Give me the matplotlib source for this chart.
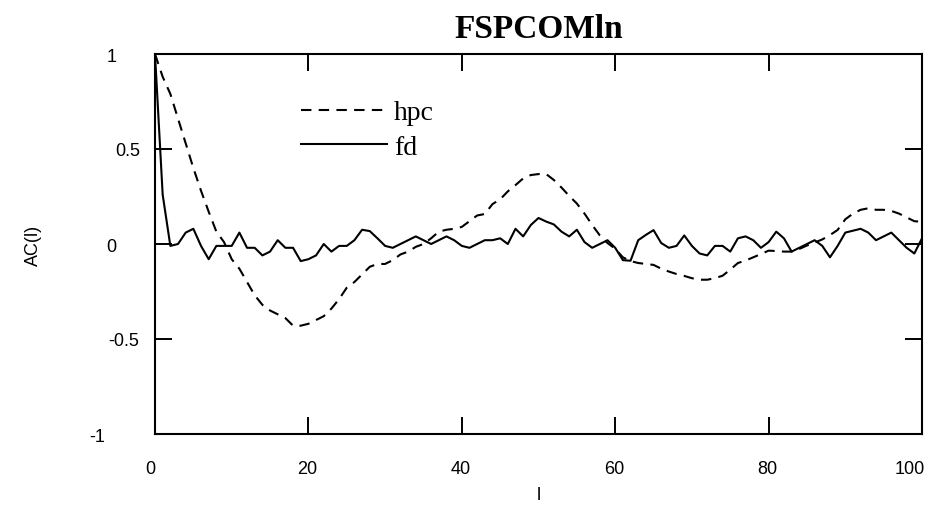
import matplotlib
matplotlib.use("Agg")
import matplotlib.pyplot as plt
from matplotlib.transforms import ScaledTranslation

lags = list(range(0, 101))

hpc = [1.0, 0.88, 0.79, 0.66, 0.53, 0.40, 0.28, 0.17, 0.065, 0.01,
       -0.08, -0.13, -0.20, -0.27, -0.32, -0.35, -0.37, -0.39, -0.43, -0.43,
       -0.42, -0.40, -0.38, -0.34, -0.29, -0.23, -0.20, -0.16, -0.12, -0.105,
       -0.105, -0.085, -0.055, -0.04, -0.015, 0.0, 0.03, 0.065, 0.075, 0.08,
       0.09, 0.12, 0.15, 0.158, 0.21, 0.235, 0.277, 0.31, 0.345, 0.363,
       0.368, 0.368, 0.337, 0.297, 0.253, 0.213, 0.16, 0.10, 0.045, 0.005,
       -0.025, -0.07, -0.09, -0.10, -0.105, -0.11, -0.13, -0.145, -0.158, -0.168,
       -0.18, -0.188, -0.188, -0.18, -0.167, -0.135, -0.10, -0.087, -0.07, -0.053,
       -0.035, -0.037, -0.04, -0.04, -0.026, -0.008, 0.008, 0.024, 0.047, 0.074,
       0.13, 0.16, 0.18, 0.188, 0.18, 0.18, 0.174, 0.16, 0.14, 0.12,
       0.117]

fd = [1.0, 0.26, -0.01, 0.0, 0.06, 0.08, -0.01, -0.08, -0.01, -0.01,
      -0.01, 0.06, -0.02, -0.02, -0.06, -0.04, 0.02, -0.02, -0.02, -0.09,
      -0.08, -0.06, 0.0, -0.04, -0.01, -0.01, 0.02, 0.075, 0.068, 0.03,
      -0.01, -0.02, 0.0, 0.02, 0.04, 0.02, 0.0, 0.02, 0.04, 0.02,
      -0.01, -0.02, 0.0, 0.02, 0.02, 0.03, 0.0, 0.08, 0.04, 0.10,
      0.137, 0.118, 0.103, 0.065, 0.04, 0.075, 0.01, -0.02, 0.0, 0.02,
      -0.02, -0.085, -0.088, 0.02, 0.048, 0.073, 0.005, -0.02, -0.01, 0.045,
      -0.01, -0.05, -0.06, -0.01, -0.01, -0.04, 0.03, 0.04, 0.02, -0.02,
      0.01, 0.065, 0.03, -0.04, -0.02, 0.0, 0.02, -0.01, -0.07, -0.01,
      0.06, 0.07, 0.08, 0.06, 0.02, 0.04, 0.06, 0.02, -0.02, -0.05,
      0.03]

xticks = [0, 20, 40, 60, 80, 100]
yticks = [-1, -0.5, 0, 0.5, 1]
ytick_labels = ["-1", "-0.5", "0", "0.5", "1"]

fig = plt.figure(figsize=(9.31, 5.06), dpi=100)
ax = fig.add_axes([155/931, (506-435)/506, 767/931, 380/506])

ax.plot(lags, hpc, color="black", lw=1.5, linestyle=(0, (5, 3.5)), label="hpc")
ax.plot(lags, fd, color="black", lw=1.5, label="fd")

ax.set_xlim(0, 100)
ax.set_ylim(-1, 1)
ax.set_xticks(xticks)
ax.set_xticklabels([str(t) for t in xticks])
ax.set_yticks(yticks)
ax.set_yticklabels(ytick_labels)
ax.tick_params(direction="in", length=12, width=1.4, top=True, right=True,
               labelsize=13)
ax.tick_params(axis="x", pad=19)
ax.tick_params(axis="y", pad=16)
for lbl in ax.get_xticklabels() + ax.get_yticklabels():
    lbl.set_fontfamily("Liberation Sans")

def shift(lbl, dx):
    lbl.set_transform(lbl.get_transform() + ScaledTranslation(dx / 100, 0, fig.dpi_scale_trans))

for lbl, dx in zip(ax.get_xticklabels(), [-5, -1, -1, -1, -1, -12]):
    shift(lbl, dx)
for lbl, dx in zip(ax.get_yticklabels(), [-28, 6, -16, 7, -16]):
    shift(lbl, dx)
for s in ax.spines.values():
    s.set_linewidth(1.5)

ax.set_xlabel("l", fontsize=13, family="Liberation Sans")
ax.xaxis.set_label_coords(0.5, -0.137)
ax.set_ylabel("AC(l)", fontsize=13, family="Liberation Sans")
ax.yaxis.set_label_coords(-0.148, 0.5)
ax.set_title("FSPCOMln", fontsize=24, fontweight="bold", family="Liberation Serif", pad=12)

leg = ax.legend(loc="upper left", bbox_to_anchor=(0.158, 0.945), frameon=False,
                prop={"family": "Liberation Serif", "size": 20},
                handlelength=3.1, handletextpad=0.25, labelspacing=0.32)

fig.savefig("out.png", dpi=100)
